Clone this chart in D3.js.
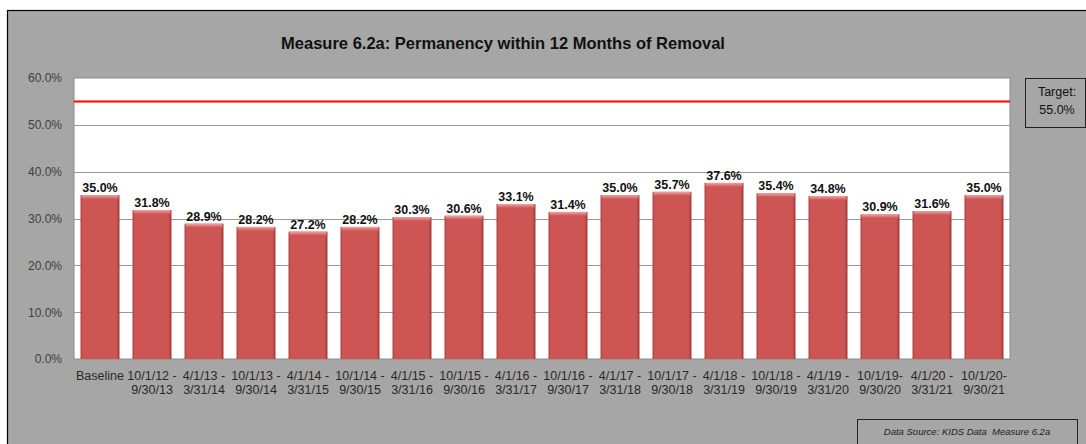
<!DOCTYPE html>
<html>
<head>
<meta charset="utf-8">
<script src="https://cdn.jsdelivr.net/npm/d3@7"></script>
<style>
  body { margin: 0; background: #fff; }
  text { font-family: "Liberation Sans", Arial, sans-serif; }
</style>
</head>
<body>
<svg id="chart" width="1086" height="444"></svg>
<script>
// chart data
const periodsTop = ["Baseline", "10/1/12 -", "4/1/13 -", "10/1/13 -", "4/1/14 -", "10/1/14 -", "4/1/15 -", "10/1/15 -", "4/1/16 -",
  "10/1/16 -", "4/1/17 -", "10/1/17 -", "4/1/18 -", "10/1/18 -", "4/1/19 -", "10/1/19-", "4/1/20 -", "10/1/20-"]
const periodsBottom = ["", "9/30/13", "3/31/14", "9/30/14", "3/31/15", "9/30/15", "3/31/16", "9/30/16", "3/31/17",
  "9/30/17", "3/31/18", "9/30/18", "3/31/19", "9/30/19", "3/31/20", "9/30/20", "3/31/21", "9/30/21"]
const permanency = [35.0, 31.8, 28.9, 28.2, 27.2, 28.2, 30.3, 30.6, 33.1, 31.4, 35.0, 35.7, 37.6, 35.4, 34.8, 30.9, 31.6, 35.0]
const yTicks = [0, 10, 20, 30, 40, 50, 60]
const target = 55.0

const svg = d3.select("#chart")
const W = 1086, H = 444
const plot = { left: 74, right: 1010, top: 78, bottom: 359 }

// background panel
svg.append("rect").attr("x", 7.5).attr("y", 10.5).attr("width", W).attr("height", H)
  .attr("fill", "#a6a6a6").attr("stroke", "#000").attr("stroke-width", 1.2)

const x = d3.scaleBand().domain(d3.range(permanency.length))
  .range([plot.left, plot.right]).paddingInner(0.25).paddingOuter(0.125)
const y = d3.scaleLinear().domain([0, 60]).range([plot.bottom, plot.top])

// gradient for the bevelled bars
const defs = svg.append("defs")
const grad = defs.append("linearGradient").attr("id", "barGrad").attr("x1", 0).attr("x2", 1)
grad.append("stop").attr("offset", "0%").attr("stop-color", "#b0413f")
grad.append("stop").attr("offset", "6%").attr("stop-color", "#cd5553")
grad.append("stop").attr("offset", "92%").attr("stop-color", "#cd5553")
grad.append("stop").attr("offset", "100%").attr("stop-color", "#9e3a38")
const cap = defs.append("linearGradient").attr("id", "capGrad").attr("x1", 0).attr("x2", 0).attr("y1", 0).attr("y2", 1)
cap.append("stop").attr("offset", "0%").attr("stop-color", "#f0a4a2")
cap.append("stop").attr("offset", "100%").attr("stop-color", "#cd5553")

// plot area
svg.append("rect").attr("x", plot.left).attr("y", plot.top)
  .attr("width", plot.right - plot.left).attr("height", plot.bottom - plot.top)
  .attr("fill", "#fff").attr("stroke", "#8c8c8c")

// gridlines
svg.append("g").selectAll("line").data(yTicks.filter(t => t > 0 && t < 60)).join("line")
  .attr("x1", plot.left).attr("x2", plot.right)
  .attr("y1", d => Math.round(y(d)) + 0.5).attr("y2", d => Math.round(y(d)) + 0.5)
  .attr("stroke", "#9a9a9a").attr("stroke-width", 1)

// y axis
const yAxis = svg.append("g").attr("transform", `translate(${plot.left},0)`)
  .call(d3.axisLeft(y).tickValues(yTicks).tickFormat(d => d.toFixed(1) + "%").tickSize(0).tickPadding(12))
yAxis.select(".domain").remove()
yAxis.selectAll("text").attr("font-size", 12).attr("fill", "#404040")
  .attr("font-family", "Liberation Sans, Arial, sans-serif")

// bars
const bars = svg.append("g")
bars.selectAll("rect.bar").data(permanency).join("rect").attr("class", "bar")
  .attr("x", (d, i) => x(i)).attr("width", x.bandwidth())
  .attr("y", d => y(d)).attr("height", d => y(0) - y(d))
  .attr("fill", "url(#barGrad)")
bars.selectAll("rect.cap").data(permanency).join("rect").attr("class", "cap")
  .attr("x", (d, i) => x(i) + 1).attr("width", x.bandwidth() - 2)
  .attr("y", d => y(d)).attr("height", 4)
  .attr("fill", "url(#capGrad)")

// data labels
svg.append("g").selectAll("text").data(permanency).join("text")
  .attr("x", (d, i) => x(i) + x.bandwidth() / 2)
  .attr("y", d => y(d) - 3)
  .attr("text-anchor", "middle").attr("font-size", 12.5).attr("font-weight", "bold").attr("fill", "#111")
  .text(d => d.toFixed(1) + "%")

// target line
svg.append("line").attr("x1", plot.left).attr("x2", plot.right)
  .attr("y1", y(target)).attr("y2", y(target))
  .attr("stroke", "#ff0000").attr("stroke-width", 2)

// x labels
const xl = svg.append("g").selectAll("text").data(permanency).join("text")
  .attr("text-anchor", "middle").attr("font-size", 12.5).attr("fill", "#2a2a2a")
  .attr("transform", (d, i) => `translate(${x(i) + x.bandwidth() / 2},0)`)
xl.append("tspan").attr("x", 0).attr("y", 380).text((d, i) => periodsTop[i])
xl.append("tspan").attr("x", 0).attr("y", 394).text((d, i) => periodsBottom[i])

// title
svg.append("text").attr("x", 503).attr("y", 49).attr("text-anchor", "middle")
  .attr("font-size", 16.5).attr("font-weight", "bold").attr("fill", "#111")
  .text("Measure 6.2a: Permanency within 12 Months of Removal")

// target box
svg.append("rect").attr("x", 1025.5).attr("y", 78.5).attr("width", 60).attr("height", 49)
  .attr("fill", "none").attr("stroke", "#222")
svg.append("text").attr("x", 1057).attr("y", 96).attr("text-anchor", "middle")
  .attr("font-size", 12.5).attr("fill", "#111").text("Target:")
svg.append("text").attr("x", 1057).attr("y", 114).attr("text-anchor", "middle")
  .attr("font-size", 12.5).attr("fill", "#111").text("55.0%")

// data source box
svg.append("rect").attr("x", 857.5).attr("y", 419.5).attr("width", 220).attr("height", 40)
  .attr("fill", "none").attr("stroke", "#222")
svg.append("text").attr("x", 967).attr("y", 435).attr("text-anchor", "middle")
  .attr("font-size", 9.5).attr("font-style", "italic").attr("fill", "#222")
  .attr("xml:space", "preserve")
  .text("Data Source: KIDS Data  Measure 6.2a")
</script>
</body>
</html>
